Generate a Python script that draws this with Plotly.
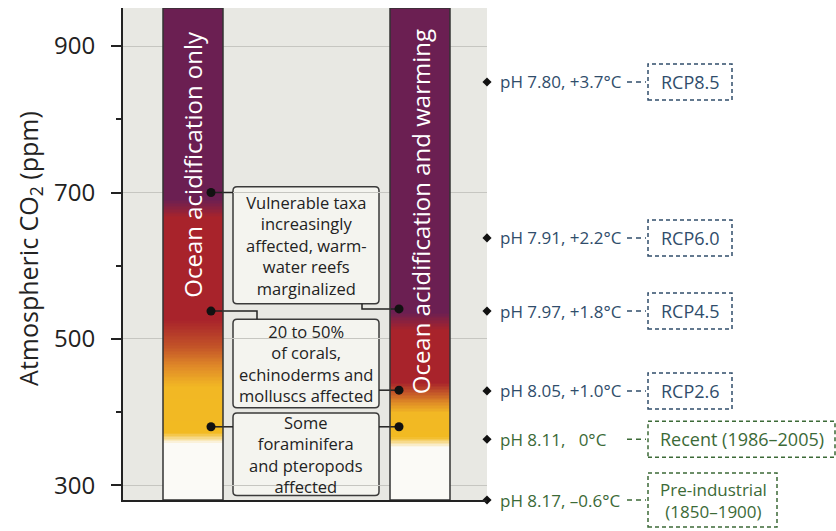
import numpy as np
import plotly.graph_objects as go

# ---------------- data ----------------
Y_MIN, Y_MAX = 280, 952
y_ticks = [300, 500, 700, 900]
y_minor = [400, 600, 800]

bar_labels = ["Ocean acidification only", "Ocean acidification and warming"]
# colour gradient stops along CO2 (ppm) for each bar
left_stop_ppm = [280, 357, 372, 434, 462, 490, 526, 666, 690, 952]
left_stop_col = ["#FBFAF6", "#FBFAF6", "#F2BA22", "#F2B824", "#E08A28",
                 "#C25228", "#A8232B", "#A8232B", "#6B1F52", "#6B1F52"]
right_stop_ppm = [280, 352, 366, 399, 413, 440, 512, 536, 952]
right_stop_col = ["#FBFAF6", "#FBFAF6", "#F2BA22", "#F2B824", "#DE8A26",
                  "#A8232B", "#A8232B", "#6B1F52", "#6B1F52"]

impact_texts = [
    "Vulnerable taxa<br>increasingly<br>affected, warm-<br>water reefs<br>marginalized",
    "20 to 50%<br>of corals,<br>echinoderms and<br>molluscs affected",
    "Some<br>foraminifera<br>and pteropods<br>affected",
]
impact_ppm_left = [700, 538, 380]    # threshold dots, acidification only
impact_ppm_right = [541, 430, 380]   # threshold dots, acidification + warming

scenario_names = ["RCP8.5", "RCP6.0", "RCP4.5", "RCP2.6",
                  "Recent (1986–2005)", "Pre-industrial<br>(1850–1900)"]
scenario_co2 = [851, 638, 538, 429, 363, 280]
scenario_text = ["pH 7.80, +3.7°C", "pH 7.91, +2.2°C", "pH 7.97, +1.8°C",
                 "pH 8.05, +1.0°C", "pH 8.11,   0°C", "pH 8.17, –0.6°C"]

# ---------------- styling ----------------
FONT = "Open Sans"
BLUE = "#304D6B"
GREEN = "#3C6A37"
scen_col = [BLUE, BLUE, BLUE, BLUE, GREEN, GREEN]
DARK = "#222222"
L, R, T, B = 123, 0, 8, 31
W, H = 836, 531
PW = W - L - R
PH = H - T - B
XMAX = 364  # x axis units = pixels from left axis

def xp(px):
    return (px - L) / PW

def yp(v):
    return (v - Y_MIN) / (Y_MAX - Y_MIN)

fig = go.Figure()

# gradient bars
edges = np.linspace(Y_MIN, Y_MAX, 337)
centers = ((edges[:-1] + edges[1:]) / 2).reshape(-1, 1)
bar_x = [[40, 100], [267, 327]]
for (xe, sp, sc) in [(bar_x[0], left_stop_ppm, left_stop_col),
                     (bar_x[1], right_stop_ppm, right_stop_col)]:
    cs = [[(p - Y_MIN) / (Y_MAX - Y_MIN), c] for p, c in zip(sp, sc)]
    fig.add_trace(go.Heatmap(x=xe, y=edges, z=centers.tolist(), colorscale=cs,
                             zmin=Y_MIN, zmax=Y_MAX, showscale=False,
                             hoverinfo="skip"))

# connectors
px_ppm = 1 / 0.73214
box_x0, box_x1 = 110, 256
cx, cy = [], []
lx, rx = 88, 276
cx += [lx, box_x0, None]; cy += [impact_ppm_left[0]] * 2 + [None]
cx += [lx, 134, 134, None]; cy += [impact_ppm_left[1], impact_ppm_left[1], 527, None]
cx += [lx, box_x0, None]; cy += [impact_ppm_left[2]] * 2 + [None]
cx += [239, 239, rx, None]; cy += [548, impact_ppm_right[0], impact_ppm_right[0], None]
cx += [box_x1, rx, None]; cy += [impact_ppm_right[1]] * 2 + [None]
cx += [box_x1, rx, None]; cy += [impact_ppm_right[2]] * 2 + [None]
fig.add_trace(go.Scatter(x=cx, y=cy, mode="lines", line=dict(color=DARK, width=1.5),
                         hoverinfo="skip", showlegend=False))
fig.add_trace(go.Scatter(x=[lx] * 3 + [rx] * 3, y=impact_ppm_left + impact_ppm_right,
                         mode="markers", marker=dict(color="#111", size=9),
                         hoverinfo="skip", showlegend=False))

# scenario diamonds
fig.add_trace(go.Scatter(x=[XMAX] * len(scenario_co2), y=scenario_co2, mode="markers",
                         marker=dict(symbol="diamond", size=7, color="#111"),
                         cliponaxis=False, hoverinfo="skip", showlegend=False))

shapes = []
annotations = []

def rounded(x0, x1, y0, y1, r=4):
    ry = r * px_ppm
    return (f"M {x0 + r},{y1} L {x1 - r},{y1} Q {x1},{y1} {x1},{y1 - ry} "
            f"L {x1},{y0 + ry} Q {x1},{y0} {x1 - r},{y0} L {x0 + r},{y0} "
            f"Q {x0},{y0} {x0},{y0 + ry} L {x0},{y1 - ry} Q {x0},{y1} {x0 + r},{y1} Z")

box_y = [(548, 708), (406, 527), (286, 399)]
for (y0, y1), txt in zip(box_y, impact_texts):
    shapes.append(dict(type="path", path=rounded(box_x0, box_x1, y0, y1),
                       xref="x", yref="y", fillcolor="rgba(245,245,240,0.9)",
                       line=dict(color="#3a3a3a", width=1.5), layer="below"))
    annotations.append(dict(x=(box_x0 + box_x1) / 2, y=(y0 + y1) / 2, xref="x", yref="y",
                            text=txt, showarrow=False, align="center",
                            font=dict(family=FONT, size=16.5, color=DARK)))

# bar outlines and labels
for xe, lab, yc in zip(bar_x, bar_labels, [738, 673]):
    shapes.append(dict(type="rect", x0=xe[0], x1=xe[1], y0=Y_MIN, y1=Y_MAX,
                       xref="x", yref="y", line=dict(color="#333", width=1.5),
                       fillcolor="rgba(0,0,0,0)", layer="above"))
    annotations.append(dict(x=(xe[0] + xe[1]) / 2, y=yc, xref="x", yref="y", text=lab,
                            textangle=-90, showarrow=False,
                            font=dict(family=FONT, size=24, color="white")))

# scenario labels on the right
box_right = [733, 733, 733, 733, 836, 778]
box_half = [18, 18, 18, 18, 18, 27]
box_font = [18, 18, 18, 18, 18, 17]
for name, co2, txt, col, br, bh, bf in zip(scenario_names, scenario_co2, scenario_text,
                                           scen_col, box_right, box_half, box_font):
    annotations.append(dict(x=xp(498), y=co2, xref="paper", yref="y", text=txt,
                            xanchor="left", yanchor="middle", showarrow=False,
                            font=dict(family=FONT, size=17, color=col)))
    shapes.append(dict(type="line", xref="paper", yref="paper", x0=xp(627), x1=xp(646),
                       ysizemode="pixel", yanchor=yp(co2), y0=0, y1=0,
                       line=dict(color=col, width=1.5, dash="5px,4px")))
    shapes.append(dict(type="rect", xref="paper", yref="paper", x0=xp(648), x1=xp(br - 1),
                       ysizemode="pixel", yanchor=yp(co2), y0=-bh, y1=bh,
                       line=dict(color=col, width=1.5, dash="4px,3px"),
                       fillcolor="rgba(0,0,0,0)"))
    annotations.append(dict(x=xp((648 + br) / 2), y=co2, xref="paper", yref="y", text=name,
                            xanchor="center", yanchor="middle", showarrow=False,
                            font=dict(family=FONT, size=bf, color=col)))

# y-axis title
annotations.append(dict(x=xp(30), y=623, xref="paper", yref="y",
                        xanchor="center", yanchor="middle",
                        text="Atmospheric CO<sub>2</sub> (ppm)", textangle=-90,
                        showarrow=False, font=dict(family=FONT, size=25, color=DARK)))

fig.update_layout(
    width=W, height=H, margin=dict(l=L, r=R, t=T, b=B),
    paper_bgcolor="white", plot_bgcolor="#E8E8E3",
    showlegend=False, shapes=shapes, annotations=annotations,
    xaxis=dict(domain=[0, XMAX / PW], range=[0, XMAX], showline=True, linecolor=DARK,
               linewidth=2, showgrid=False, zeroline=False, showticklabels=False,
               ticks="", fixedrange=True),
    yaxis=dict(range=[Y_MIN, Y_MAX], tickvals=y_ticks, ticks="outside", ticklen=10,
               tickwidth=2, tickcolor=DARK, showline=True, linecolor=DARK, linewidth=2,
               showgrid=True, gridcolor="#C6C6C1", gridwidth=1, zeroline=False,
               ticklabelstandoff=11,
               tickfont=dict(family=FONT, size=24, color=DARK),
               minor=dict(tickvals=y_minor, ticks="outside", ticklen=5, tickwidth=2,
                          tickcolor=DARK, showgrid=False)),
)

fig.write_html("out.html")
